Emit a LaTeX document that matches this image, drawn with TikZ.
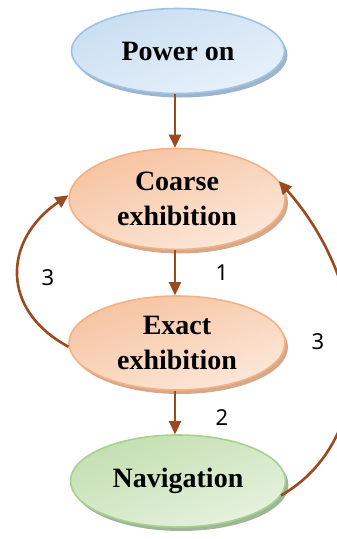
\documentclass[tikz,border=0pt]{standalone}
\usepackage{fontspec}
\setmainfont{Liberation Serif}
\newfontfamily\labfont{Noto Sans}
\usetikzlibrary{shapes.geometric,arrows.meta,shadows}
\definecolor{arrbrown}{HTML}{9A4A1E}
\tikzset{
  state/.style={ellipse, inner sep=0pt, minimum width=214pt, font=\fontsize{28}{35}\selectfont\bfseries, align=center, line width=1.6pt},
  bluestate/.style={state, draw=blueedge, top color=bluetop, bottom color=bluebot, shading angle=20, drop shadow={shadow xshift=3pt, shadow yshift=-4pt, fill=blueshadow, opacity=1}},
  peachstate/.style={state, draw=peachedge, top color=peachtop, bottom color=peachbot, shading angle=20, drop shadow={shadow xshift=3pt, shadow yshift=-4pt, fill=peachshadow, opacity=1}},
  greenstate/.style={state, draw=greenedge, top color=greentop, bottom color=greenbot, shading angle=20, drop shadow={shadow xshift=3pt, shadow yshift=-4pt, fill=greenshadow, opacity=1}},
  arr/.style={draw=arrbrown, line width=2.6pt, -{Triangle[length=13pt,width=12pt]}},
  lab/.style={font=\labfont\fontsize{22}{22}\selectfont, text=black, inner sep=0pt}
}
\definecolor{blueedge}{HTML}{9DC3E6}
\definecolor{bluetop}{HTML}{C9DEF2}
\definecolor{bluebot}{HTML}{E8F1FA}
\definecolor{blueshadow}{HTML}{9FB4C8}
\definecolor{peachedge}{HTML}{F4B183}
\definecolor{peachtop}{HTML}{F6C3A0}
\definecolor{peachbot}{HTML}{FCE8DA}
\definecolor{peachshadow}{HTML}{D6A88A}
\definecolor{greenedge}{HTML}{A9D18E}
\definecolor{greentop}{HTML}{C3DFB0}
\definecolor{greenbot}{HTML}{E6F2DF}
\definecolor{greenshadow}{HTML}{9FB598}
\begin{document}
\begin{tikzpicture}[x=1pt,y=-1pt]
\useasboundingbox (0,0) rectangle (337,539);
\clip (0,0) rectangle (337,539);
\node[bluestate, minimum width=213pt, minimum height=85pt] (power) at (178,51) {Power on};
\node[peachstate, minimum width=216pt, minimum height=101pt] (coarse) at (177,199) {Coarse\\exhibition};
\node[peachstate, minimum width=216pt, minimum height=94pt] (exact) at (177,343) {Exact\\exhibition};
\node[greenstate, minimum width=215pt, minimum height=92pt] (nav) at (178,481) {Navigation};
\draw[arr] (power.south -| coarse.north) ++(-2,0) coordinate (p1) -- (p1 |- coarse.north);
\draw[arr] (coarse.south) ++(-2,0) coordinate (c1) -- (c1 |- exact.north);
\draw[arr] (exact.south) ++(-2,0) coordinate (e1) -- (e1 |- nav.north);
\draw[arr] (exact.182) .. controls (0,310) and (3,240) .. (coarse.178);
\draw[arr] (nav.352) .. controls (378,440) and (375,290) .. (coarse.10);
\node[lab] (l1) at (222,273) {1};
\node[lab] (l2) at (222,418) {2};
\node[lab] (l3a) at (48,278) {3};
\node[lab] (l3b) at (318,342) {3};
\end{tikzpicture}
\end{document}
